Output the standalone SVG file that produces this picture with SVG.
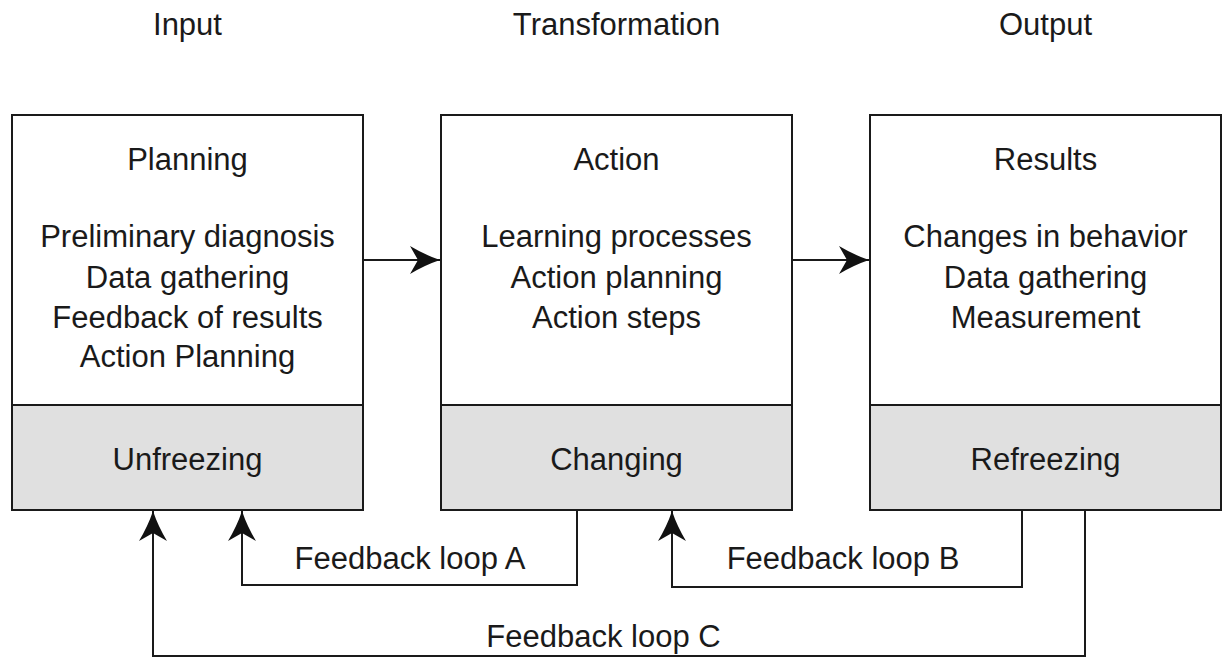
<svg xmlns="http://www.w3.org/2000/svg" width="1225" height="658" viewBox="0 0 1225 658">
  <style>
    text { font-family: "Liberation Sans", Arial, sans-serif; font-size: 31px; fill: #1a1a1a; text-anchor: middle; }
    .top { fill: #ffffff; stroke: #1a1a1a; stroke-width: 2; }
    .bottom { fill: #e0e0e0; stroke: #1a1a1a; stroke-width: 2; }
    .link { fill: none; stroke: #1a1a1a; stroke-width: 2; }
  </style>
  <defs>
    <marker id="arrow" viewBox="0 0 30 28" refX="30" refY="14" markerWidth="30" markerHeight="28" markerUnits="userSpaceOnUse" orient="auto">
      <path d="M30,14 Q15,9 0,0 L8,14 L0,28 Q15,19 30,14 Z" fill="#111111"/>
    </marker>
  </defs>

  <rect width="1225" height="658" fill="#ffffff"/>

  <!-- column headings -->
  <g id="headings">
    <text x="187.5" y="35">Input</text>
    <text x="616.5" y="35">Transformation</text>
    <text x="1045.5" y="35">Output</text>
  </g>

  <!-- stage 1 -->
  <g id="planning">
    <rect class="top" x="12" y="115" width="351" height="290"/>
    <rect class="bottom" x="12" y="405" width="351" height="105"/>
    <text x="187.5" y="170">Planning</text>
    <text x="187.5" y="247">Preliminary diagnosis</text>
    <text x="187.5" y="288">Data gathering</text>
    <text x="187.5" y="328">Feedback of results</text>
    <text x="187.5" y="367">Action Planning</text>
    <text x="187.5" y="470">Unfreezing</text>
  </g>

  <!-- stage 2 -->
  <g id="action">
    <rect class="top" x="441" y="115" width="351" height="290"/>
    <rect class="bottom" x="441" y="405" width="351" height="105"/>
    <text x="616.5" y="170">Action</text>
    <text x="616.5" y="247">Learning processes</text>
    <text x="616.5" y="288">Action planning</text>
    <text x="616.5" y="328">Action steps</text>
    <text x="616.5" y="470">Changing</text>
  </g>

  <!-- stage 3 -->
  <g id="results">
    <rect class="top" x="870" y="115" width="351" height="290"/>
    <rect class="bottom" x="870" y="405" width="351" height="105"/>
    <text x="1045.5" y="170">Results</text>
    <text x="1045.5" y="247">Changes in behavior</text>
    <text x="1045.5" y="288">Data gathering</text>
    <text x="1045.5" y="328">Measurement</text>
    <text x="1045.5" y="470">Refreezing</text>
  </g>

  <!-- connectors -->
  <g id="connectors">
    <path class="link" d="M363,260 H440" marker-end="url(#arrow)"/>
    <path class="link" d="M792,260 H869" marker-end="url(#arrow)"/>
    <path class="link" d="M577,510 V585 H242 V511" marker-end="url(#arrow)"/>
    <path class="link" d="M1022,510 V587 H672 V511" marker-end="url(#arrow)"/>
    <path class="link" d="M1085,510 V656 H153 V511" marker-end="url(#arrow)"/>
    <text x="410" y="569">Feedback loop A</text>
    <text x="843" y="569">Feedback loop B</text>
    <text x="603.5" y="647">Feedback loop C</text>
  </g>
</svg>
